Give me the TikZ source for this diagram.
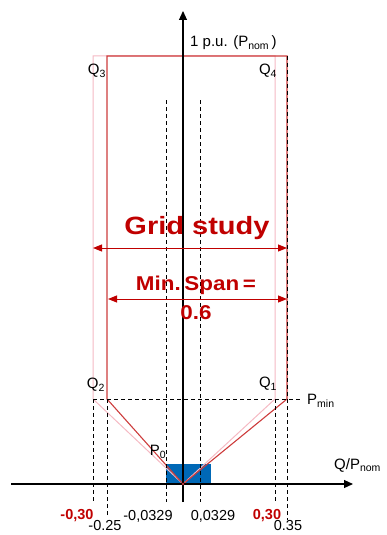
\documentclass[tikz,border=0pt]{standalone}
\usepackage{fontspec}
\setmainfont{Liberation Sans}
\usetikzlibrary{arrows.meta}
\definecolor{darkred}{RGB}{192,0,0}
\definecolor{polyred}{RGB}{205,60,60}
\definecolor{pinkline}{RGB}{245,185,195}
\definecolor{blueb}{RGB}{0,104,182}
\begin{document}
\begin{tikzpicture}[x=1pt,y=-1pt,
  axisline/.style={line width=1.1pt,-{Triangle[length=9pt,width=8pt]}},
  dashline/.style={dash pattern=on 4pt off 3pt,line width=0.8pt},
  lbl/.style={font=\fontsize{15}{17}\selectfont,inner sep=0pt},
  numlbl/.style={font=\fontsize{14.5}{16}\selectfont,inner sep=0pt},
  redlbl/.style={font=\bfseries\fontsize{14.5}{16}\selectfont,inner sep=0pt,text=darkred},
  bigred/.style={font=\bfseries\fontsize{25}{28}\selectfont,inner sep=0pt,text=darkred,xscale=1.16},
  midred/.style={font=\bfseries\fontsize{20}{24}\selectfont,inner sep=0pt,text=darkred,xscale=1.12},
  pinkpoly/.style={draw=pinkline,line width=1pt},
  redpoly/.style={draw=polyred,line width=1.1pt},
  span/.style={draw=darkred,line width=1pt,{Triangle[length=9pt,width=7pt]}-{Triangle[length=9pt,width=7pt]}}
]
\useasboundingbox (0,0) rectangle (386,535);
\clip (0,0) rectangle (386,535);
% key coordinates
\coordinate (O) at (183,484);
\coordinate (Q3) at (107,56);
\coordinate (Q4) at (287,56);
\coordinate (Q2) at (107,399);
\coordinate (Q1) at (287,399);
\coordinate (S3) at (93,56);
\coordinate (S4) at (275,56);
\coordinate (S2) at (93,399);
\coordinate (S1) at (275,399);
% blue rectangle
\fill[blueb] (166,464) rectangle (211,484);
% pink polygon (-0.30 .. 0.30)
\draw[pinkpoly] (O) -- (S2) -- (S3) -- (S4) -- (S1) -- cycle;
% red polygon (-0.25 .. 0.35)
\draw[redpoly] (O) -- (Q2) -- (Q3) -- (Q4) -- (Q1) -- cycle;
% dashed lines
\coordinate (PminR) at (300,399);
\draw[dashline] (S2) -- (PminR);
\coordinate (a1) at (93,502);   \draw[dashline] (S2) -- (a1);
\coordinate (a2) at (107,517);  \draw[dashline] (Q2) -- (a2);
\coordinate (a3t) at (166,100); \coordinate (a3) at (166,502); \draw[dashline] (a3t) -- (a3);
\coordinate (a4t) at (200,100); \coordinate (a4) at (200,502); \draw[dashline] (a4t) -- (a4);
\coordinate (a5) at (275,502);  \draw[dashline] (S1) -- (a5);
\coordinate (a6) at (287,520);  \draw[dashline] (Q4) -- (a6);
% axes
\coordinate (xs) at (11,484); \coordinate (xe) at (353,484);
\coordinate (ys) at (183,502); \coordinate (ye) at (183,11);
\draw[axisline] (xs) -- (xe);
\draw[axisline] (ys) -- (ye);
\fill[polyred] (O) circle (1.3pt);
% spans
\coordinate (g1) at (93,248); \coordinate (g2) at (287,248);
\draw[span] (g1) -- (g2);
\coordinate (m1) at (108,299); \coordinate (m2) at (287,299);
\draw[span] (m1) -- (m2);
\node[bigred] (grid) at (197,228) {Grid study};
\node[midred] (minspan) at (196,285) {Min.\,Span\,=};
\node[midred] (val) at (196,313) {0.6};
% labels
\node[lbl,anchor=west] (pu) at (190,43) {1 p.u. (P\textsubscript{nom}\,)};
\node[lbl] (lQ3) at (97,71) {Q\textsubscript{3}};
\node[lbl] (lQ4) at (268,71) {Q\textsubscript{4}};
\node[lbl] (lQ2) at (96,385) {Q\textsubscript{2}};
\node[lbl] (lQ1) at (268,384) {Q\textsubscript{1}};
\node[lbl,anchor=west] (pmin) at (307,401) {P\textsubscript{min}};
\node[lbl] (p0) at (158,452) {P\textsubscript{0}};
\node[lbl,anchor=west] (qp) at (334,465) {Q/P\textsubscript{nom}};
\node[redlbl] (t1) at (77,516) {-0,30};
\node[numlbl] (t2) at (105,526) {-0.25};
\node[numlbl] (t3) at (148,516) {-0,0329};
\node[numlbl] (t4) at (213,516) {0,0329};
\node[redlbl] (t5) at (267,516) {0,30};
\node[numlbl] (t6) at (288,526) {0.35};
\end{tikzpicture}
\end{document}
